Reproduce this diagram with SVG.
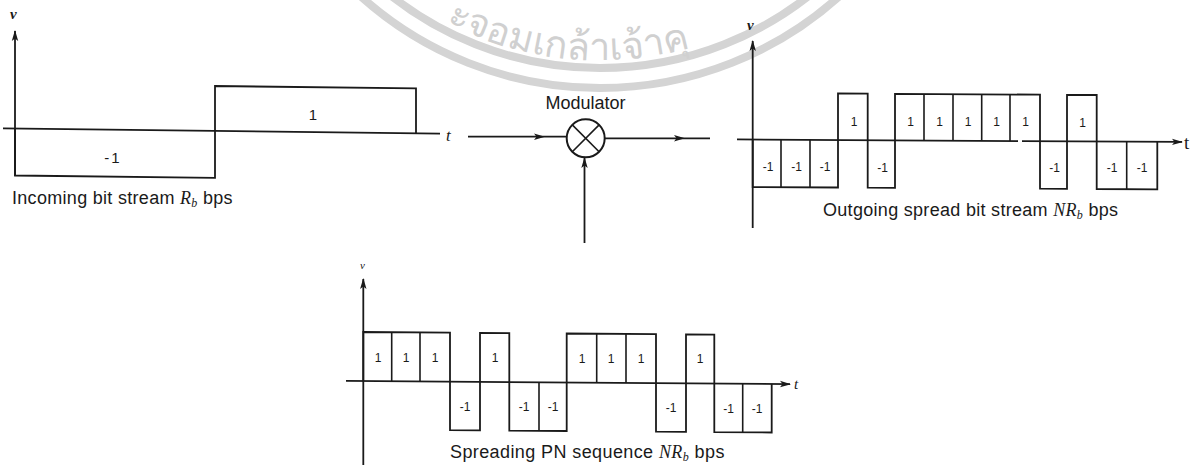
<svg xmlns="http://www.w3.org/2000/svg" width="1201" height="465" viewBox="0 0 1201 465">
<style>
.ln{fill:none;stroke:#1a1a1a;stroke-width:1.8;stroke-linejoin:miter}
.dv{fill:none;stroke:#1a1a1a;stroke-width:1.6}
.lb{font-family:"Liberation Sans",Arial,sans-serif;fill:#1a1a1a}
.bx{font-family:"Liberation Sans",Arial,sans-serif;font-size:12px;fill:#1a1a1a;text-anchor:middle}
.it{font-family:"Liberation Serif","Times New Roman",serif;font-style:italic;fill:#1a1a1a}
.wm{fill:none;stroke:#d4d4d4;stroke-width:8}
</style>
<defs>
<marker id="ah" markerWidth="12" markerHeight="8" refX="10" refY="4" orient="auto" markerUnits="userSpaceOnUse">
<path d="M0,0.8 L11,4 L0,7.2 L2.5,4 Z" fill="#1a1a1a"/>
</marker>
<path id="wmtext" d="M314,-105 A330,330 0 0 0 886,-105"/>
</defs>
<rect width="1201" height="465" fill="#ffffff"/>

<g id="watermark">
<circle class="wm" cx="600" cy="-270" r="358"/>
<circle class="wm" cx="600" cy="-270" r="338"/>
<text font-family="'Noto Sans','DejaVu Sans',sans-serif" font-size="38" fill="#d0d0d0"><textPath href="#wmtext" startOffset="186">ะจอมเกล้าเจ้าคุ</textPath></text>
</g>

<g id="incoming">
<g transform="translate(15,128.5) skewY(0.69) translate(-15,-128.5)">
<line class="ln" x1="3" y1="128.5" x2="440" y2="128.5"/>
<line class="ln" x1="15" y1="176" x2="15" y2="31" marker-end="url(#ah)"/>
<path class="ln" d="M15,128.5 V175.5 H215 V83.6 H416 V128.5"/>
</g>
<text class="it" x="10" y="19" font-size="15" font-weight="bold">v</text>
<text class="it" x="446" y="141" font-size="17">t</text>
<text class="lb" x="113" y="163" font-size="15" text-anchor="middle" letter-spacing="2">-1</text>
<text class="lb" x="313" y="120" font-size="15" text-anchor="middle">1</text>
<text class="lb" x="12" y="204" font-size="18" letter-spacing="0.3">Incoming bit stream <tspan class="it">R</tspan><tspan class="it" font-size="12" dy="3">b</tspan><tspan dy="-3"> bps</tspan></text>
</g>

<g id="modulator">
<circle cx="585.7" cy="138.3" r="19" fill="none" stroke="#1a1a1a" stroke-width="2"/>
<line class="dv" x1="572.3" y1="124.9" x2="599.1" y2="151.7" stroke-width="2"/>
<line class="dv" x1="599.1" y1="124.9" x2="572.3" y2="151.7" stroke-width="2"/>
<text class="lb" x="585.5" y="109" font-size="18" text-anchor="middle">Modulator</text>
</g>

<g id="outgoing">
<g transform="translate(752.7,139.5) skewY(0.33) translate(-752.7,-139.5)">
<line class="ln" x1="737" y1="139.5" x2="1018" y2="139.5"/>
<line class="ln" x1="1022" y1="139.5" x2="1182" y2="139.5" marker-end="url(#ah)"/>
<line class="ln" x1="752.7" y1="228" x2="752.7" y2="41" marker-end="url(#ah)"/>
<path class="ln" d="M752.7,139.5 V187 H838 V93 H867.7 V187 H895 V93 H1040 V187 H1067 V93 H1096.7 V187 H1157.3 V139.5"/>
<path class="dv" d="M781,139.5 V187 M810,139.5 V187 M924,93 V139.5 M953,93 V139.5 M981.7,93 V139.5 M1010,93 V139.5 M1126.7,139.5 V187"/>
</g>
<text class="it" x="747" y="30" font-size="15" font-weight="bold">v</text>
<text x="1184" y="149" font-family="'Liberation Serif',serif" font-size="19" fill="#1a1a1a">t</text>
<g>
<text class="bx" x="768" y="171">-1</text>
<text class="bx" x="796.5" y="171">-1</text>
<text class="bx" x="825" y="171">-1</text>
<text class="bx" x="854" y="126">1</text>
<text class="bx" x="882.5" y="172">-1</text>
<text class="bx" x="910.5" y="126">1</text>
<text class="bx" x="939.5" y="126">1</text>
<text class="bx" x="968" y="126">1</text>
<text class="bx" x="996.5" y="126">1</text>
<text class="bx" x="1025.5" y="126">1</text>
<text class="bx" x="1054.5" y="172">-1</text>
<text class="bx" x="1082.5" y="127">1</text>
<text class="bx" x="1112" y="172">-1</text>
<text class="bx" x="1142" y="172">-1</text>
</g>
<text class="lb" x="823" y="216" font-size="18" letter-spacing="0.3">Outgoing spread bit stream <tspan class="it">NR</tspan><tspan class="it" font-size="12" dy="3">b</tspan><tspan dy="-3"> bps</tspan></text>
</g>

<g id="spreading">
<g transform="translate(363.3,381) skewY(0.42) translate(-363.3,-381)">
<line class="ln" x1="346" y1="381" x2="790" y2="381" marker-end="url(#ah)"/>
<line class="ln" x1="363.3" y1="465" x2="363.3" y2="279" marker-end="url(#ah)"/>
<path class="ln" d="M363.3,381 V332 H450 V429.5 H480 V332 H509.3 V429.5 H566.7 V332 H656 V429.5 H686 V332 H714.3 V429.5 H771.7 V381"/>
<path class="dv" d="M391.7,332 V381 M420,332 V381 M539,381 V429.5 M596.7,332 V381 M626,332 V381 M742.7,381 V429.5"/>
</g>
<text class="it" x="360" y="269" font-size="11">v</text>
<text class="it" x="794" y="389" font-size="15">t</text>
<g>
<text class="bx" x="378" y="362">1</text>
<text class="bx" x="406" y="362">1</text>
<text class="bx" x="435" y="362">1</text>
<text class="bx" x="465" y="411">-1</text>
<text class="bx" x="495" y="362">1</text>
<text class="bx" x="524" y="411">-1</text>
<text class="bx" x="553" y="411">-1</text>
<text class="bx" x="582" y="363">1</text>
<text class="bx" x="611" y="363">1</text>
<text class="bx" x="641" y="363">1</text>
<text class="bx" x="671" y="412">-1</text>
<text class="bx" x="700" y="363">1</text>
<text class="bx" x="728.5" y="413">-1</text>
<text class="bx" x="757" y="413">-1</text>
</g>
<text class="lb" x="450" y="458" font-size="18" letter-spacing="0.4">Spreading PN sequence <tspan class="it">NR</tspan><tspan class="it" font-size="12" dy="3">b</tspan><tspan dy="-3"> bps</tspan></text>
</g>

<g id="connectors">
<path class="ln" d="M468,136.7 L544,136.7 L566.7,136.7" marker-mid="url(#ah)"/>
<path class="ln" d="M604.7,138.3 L684,138.3 L710,138.3" marker-mid="url(#ah)"/>
<line class="ln" x1="584.5" y1="243" x2="584.5" y2="158" marker-end="url(#ah)"/>
</g>
</svg>
